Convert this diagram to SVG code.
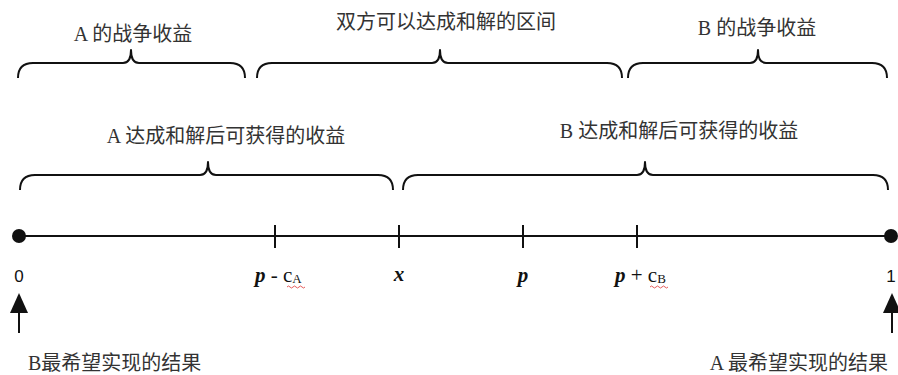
<svg xmlns="http://www.w3.org/2000/svg" width="898" height="375" viewBox="0 0 898 375">
<style>
.cn{font-family:"Liberation Serif","Noto Sans CJK SC",serif;font-size:20px;fill:#333;}
.brace{fill:none;stroke:#111;stroke-width:2;stroke-linejoin:round;}
.axis{stroke:#111;stroke-width:2;fill:none;}
.m{font-family:"Liberation Serif",serif;font-size:21px;fill:#111;}
.mi{font-style:italic;font-weight:bold;}
.num{font-family:"Liberation Sans",sans-serif;font-size:17px;fill:#111;}
.squig{fill:none;stroke:#d33;stroke-width:0.8;}
.arrow{stroke:#111;stroke-width:2;fill:none;}
.head{fill:#111;}
</style>
<rect width="898" height="375" fill="#fff"/>

<g id="braces">
<path class="brace" d="M18,78 Q18,63 33,63 L123,63 Q131,63 131,50 Q131,63 139,63 L230,63 Q245,63 245,78"/>
<path class="brace" d="M257,78 Q257,63 272,63 L432,63 Q440,63 440,50 Q440,63 448,63 L607,63 Q622,63 622,78"/>
<path class="brace" d="M628,78 Q628,63 643,63 L750,63 Q758,63 758,50 Q758,63 766,63 L872,63 Q887,63 887,78"/>
<path class="brace" d="M20,190 Q20,175 35,175 L200,175 Q208,175 208,162 Q208,175 216,175 L378,175 Q393,175 393,190"/>
<path class="brace" d="M403,190 Q403,175 418,175 L637,175 Q645,175 645,162 Q645,175 653,175 L873,175 Q888,175 888,190"/>
</g>

<g id="label-a-war"><text class="cn" x="133" y="41" text-anchor="middle">A 的战争收益</text></g>
<g id="label-range"><text class="cn" x="446" y="29" text-anchor="middle">双方可以达成和解的区间</text></g>
<g id="label-b-war"><text class="cn" x="757" y="35" text-anchor="middle">B 的战争收益</text></g>
<g id="label-a-settle"><text class="cn" x="226" y="143" text-anchor="middle">A 达成和解后可获得的收益</text></g>
<g id="label-b-settle"><text class="cn" x="679" y="138" text-anchor="middle">B 达成和解后可获得的收益</text></g>

<g id="axis">
<line class="axis" x1="18" y1="236" x2="891" y2="236"/>
<circle cx="19" cy="236" r="7" fill="#111"/>
<circle cx="891" cy="236" r="7" fill="#111"/>
<line class="axis" x1="275" y1="225" x2="275" y2="248"/>
<line class="axis" x1="399" y1="225" x2="399" y2="248"/>
<line class="axis" x1="523" y1="225" x2="523" y2="248"/>
<line class="axis" x1="637" y1="225" x2="637" y2="248"/>
</g>

<g id="tick-0"><text class="num" x="19" y="282" text-anchor="middle">0</text></g>
<g id="tick-1"><text class="num" x="891" y="282" text-anchor="middle">1</text></g>
<g id="tick-p-ca">
<text class="m" x="255" y="282"><tspan class="mi">p</tspan> - c<tspan font-size="13" dy="1">A</tspan></text>
<path class="squig" d="M287,287 q1.5,-2 3,0 t3,0 t3,0 t3,0 t3,0 t3,0"/>
</g>
<g id="tick-x"><text class="m mi" x="399" y="281" text-anchor="middle">x</text></g>
<g id="tick-p"><text class="m mi" x="523" y="282" text-anchor="middle">p</text></g>
<g id="tick-p-cb">
<text class="m" x="615" y="282"><tspan class="mi">p</tspan> + c<tspan font-size="13" dy="1">B</tspan></text>
<path class="squig" d="M650,287 q1.5,-2 3,0 t3,0 t3,0 t3,0 t3,0 t3,0"/>
</g>

<g id="connectors">
<line class="arrow" x1="19" y1="333" x2="19" y2="310"/>
<polygon class="head" points="19,293 10,313 28,313"/>
<line class="arrow" x1="892" y1="333" x2="892" y2="310"/>
<polygon class="head" points="892,293 883,313 901,313"/>
</g>

<g id="label-b-best"><text class="cn" x="28" y="370">B最希望实现的结果</text></g>
<g id="label-a-best"><text class="cn" x="888" y="370" text-anchor="end">A 最希望实现的结果</text></g>
</svg>
